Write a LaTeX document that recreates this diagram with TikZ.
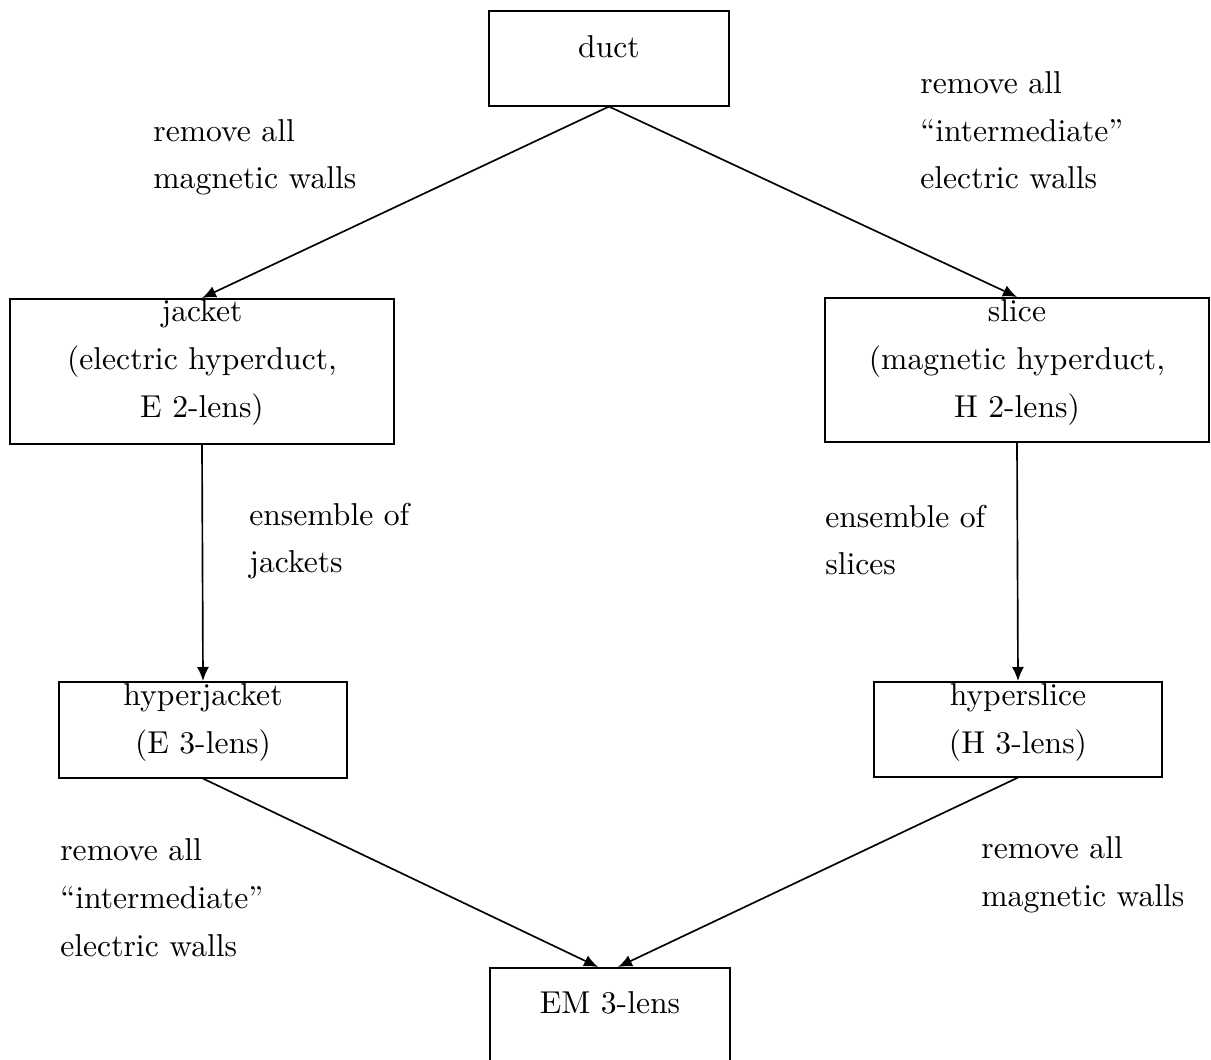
\documentclass[tikz,border=0pt]{standalone}
\usepackage{fontspec}
\setmainfont{lmroman10-regular.otf}[Ligatures=TeX]
\usepackage{tikz}
\usetikzlibrary{arrows.meta}

\begin{document}
\begin{tikzpicture}[x=0.02cm, y=-0.02cm,
    font=\fontsize{18}{27.3}\selectfont,
    box/.style={rectangle, draw, line width=0.9pt, anchor=north, align=center, inner ysep=0pt},
    lbl/.style={anchor=base west, align=left, inner sep=0pt},
    arr/.style={-{Latex[length=0.28cm,width=0.24cm]}, line width=0.95pt}]

    \useasboundingbox (0,0) rectangle (1211,1060);

    \node[box, minimum width=4.8cm, text height=0.94cm, text depth=0.96cm] (duct) at (609,10) {duct};
    \node[box, minimum width=7.68cm, text height=2.38cm, text depth=0.52cm] (jacket) at (202,298) {jacket\\(electric hyperduct,\\E 2-lens)};
    \node[box, minimum width=7.68cm, text height=2.4cm, text depth=0.48cm] (slice) at (1017,297) {slice\\(magnetic hyperduct,\\H 2-lens)};
    \node[box, minimum width=5.76cm, text height=1.44cm, text depth=0.48cm] (hjacket) at (203,681) {hyperjacket\\(E 3-lens)};
    \node[box, minimum width=5.76cm, text height=1.44cm, text depth=0.46cm] (hslice) at (1018,681) {hyperslice\\(H 3-lens)};
    \node[box, minimum width=4.8cm, text height=0.92cm, text depth=1.0cm] (em) at (610,967) {EM 3-lens};

    \node[lbl] (lbl1) at (153,189) {remove all\\magnetic walls};
    \node[lbl] (lbl2) at (920,189) {remove all\\``intermediate''\\electric walls};
    \node[lbl] (lbl3) at (249,573) {ensemble of\\jackets};
    \node[lbl] (lbl4) at (825,575) {ensemble of\\slices};
    \node[lbl] (lbl5) at (60,956) {remove all\\``intermediate''\\electric walls};
    \node[lbl] (lbl6) at (981,906) {remove all\\magnetic walls};

    \draw[arr] (duct.south) -- (jacket.north);
    \draw[arr] (duct.south) -- (slice.north);
    \draw[arr] (jacket.south) -- (hjacket.north);
    \draw[arr] (slice.south) -- (hslice.north);
    \draw[arr] (hjacket.south) -- ([xshift=-0.24cm]em.north);
    \draw[arr] (hslice.south) -- ([xshift=0.16cm]em.north);
\end{tikzpicture}
\end{document}
